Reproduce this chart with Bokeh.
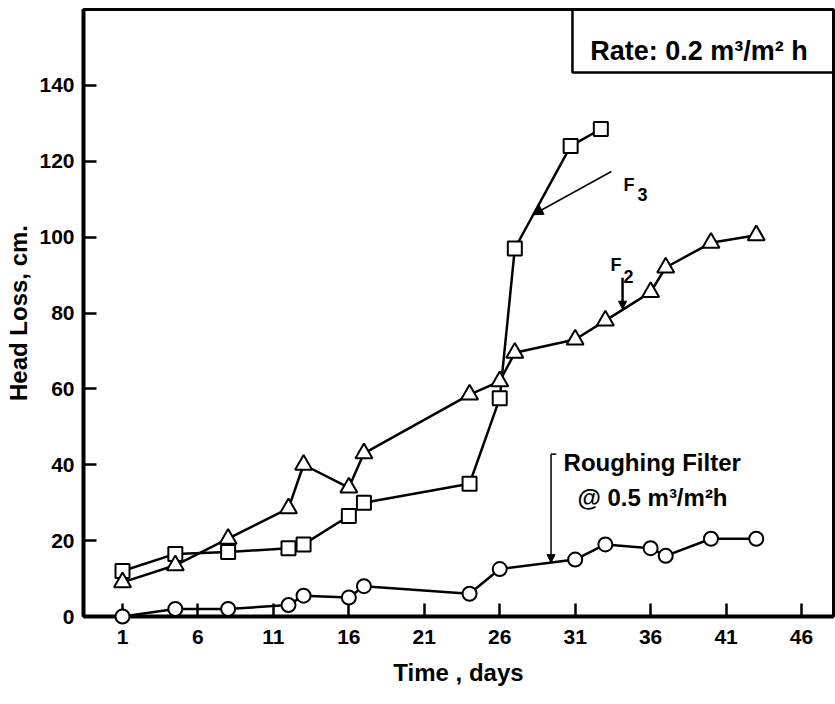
from bokeh.plotting import figure
from bokeh.models import Range1d, FixedTicker, Label, Arrow, NormalHead, BoxAnnotation
from bokeh.embed import file_html
from bokeh.resources import INLINE

# Head loss (cm) against filter run time (days)
f3_days = [1, 4.5, 8, 12, 13, 16, 17, 24, 26, 27, 30.7, 32.7]
f3_loss = [12, 16.5, 17, 18, 19, 26.5, 30, 35, 57.5, 97, 124, 128.5]

f2_days = [1, 4.5, 8, 12, 13, 16, 17, 24, 26, 27, 31, 33, 36, 37, 40, 43]
f2_loss = [9, 13.5, 20.5, 28.5, 40, 34, 43, 58.5, 62, 69.5, 73, 78, 85.5, 92, 98.5, 100.5]

rf_days = [1, 4.5, 8, 12, 13, 16, 17, 24, 26, 31, 33, 36, 37, 40, 43]
rf_loss = [0, 2, 2, 3, 5.5, 5, 8, 6, 12.5, 15, 19, 18, 16, 20.5, 20.5]

x_ticks = [1, 6, 11, 16, 21, 26, 31, 36, 41, 46]
y_ticks = [0, 20, 40, 60, 80, 100, 120, 140]

FONT = "Liberation Sans"

p = figure(width=835, height=704,
           x_range=Range1d(-1.585, 48.12), y_range=Range1d(0, 160),
           output_backend="svg", toolbar_location=None,
           min_border_left=83, min_border_right=2,
           min_border_top=9, min_border_bottom=88,
           x_axis_label="Time , days", y_axis_label="Head Loss, cm.")

p.grid.visible = False
p.background_fill_color = "white"
p.border_fill_color = "white"
p.outline_line_color = "black"
p.outline_line_width = 3

for ax, ticks in ((p.xaxis, x_ticks), (p.yaxis, y_ticks)):
    ax.ticker = FixedTicker(ticks=ticks)
    ax.major_tick_in = 13
    ax.major_tick_out = 0
    ax.minor_tick_line_color = None
    ax.axis_line_width = 4
    ax.axis_line_color = "black"
    ax.major_tick_line_width = 2.5
    ax.major_tick_line_color = "black"
    ax.major_label_text_font = FONT
    ax.major_label_text_font_style = "bold"
    ax.major_label_text_font_size = "21px"
    ax.major_label_text_color = "black"
    ax.axis_label_text_font = FONT
    ax.axis_label_text_font_style = "bold"
    ax.axis_label_text_font_size = "24px"
    ax.axis_label_text_color = "black"

p.xaxis.major_label_standoff = 13
p.xaxis.axis_label_standoff = 12
p.yaxis.major_label_standoff = 9
p.yaxis.axis_label_standoff = 4

# connecting lines
for xs, ys in ((f3_days, f3_loss), (f2_days, f2_loss), (rf_days, rf_loss)):
    p.line(xs, ys, line_color="black", line_width=2.5)

# open markers
p.scatter(f3_days, f3_loss, marker="square", size=14, fill_color="white",
          line_color="black", line_width=2, level="overlay")
p.scatter(f2_days, f2_loss, marker="triangle", size=17, fill_color="white",
          line_color="black", line_width=2, level="overlay")
p.scatter(rf_days, rf_loss, marker="circle", size=14, fill_color="white",
          line_color="black", line_width=2, level="overlay")

# rate box in the upper right corner
p.add_layout(BoxAnnotation(left=30.82, bottom=143.4, fill_alpha=0,
                           line_color="black", line_alpha=1, line_width=2.5))


def txt(x, y, s, size):
    p.add_layout(Label(x=x, y=y, text=s, text_font=FONT, text_font_style="bold",
                       text_font_size=size, text_color="black",
                       text_baseline="alphabetic", text_align="left"))


txt(32.0, 149.0, "Rate: 0.2 m³/m² h", "27px")
txt(34.2, 113.8, "F", "18px")
txt(35.13, 111.2, "3", "18px")
txt(33.34, 92.7, "F", "18px")
txt(34.2, 89.5, "2", "18px")
txt(30.23, 40.7, "Roughing Filter", "24px")
txt(31.15, 31.4, "@  0.5  m³/m²h", "24px")

# pointer arrows
p.add_layout(Arrow(x_start=33.4, y_start=117.3, x_end=28.2, y_end=105.9,
                   line_width=1.5, line_color="black",
                   end=NormalHead(size=10, fill_color="black", line_color="black")))
p.add_layout(Arrow(x_start=34.14, y_start=89.3, x_end=34.14, y_end=81.0,
                   line_width=2.5, line_color="black",
                   end=NormalHead(size=8, fill_color="black", line_color="black")))
p.add_layout(Arrow(x_start=29.4, y_start=42.8, x_end=29.4, y_end=14.2,
                   line_width=1.5, line_color="black",
                   end=NormalHead(size=8, fill_color="black", line_color="black")))
p.add_layout(Arrow(x_start=29.4, y_start=42.8, x_end=29.75, y_end=42.8,
                   line_width=1.5, line_color="black", end=None))

open("out.html", "w").write(file_html(p, INLINE))
